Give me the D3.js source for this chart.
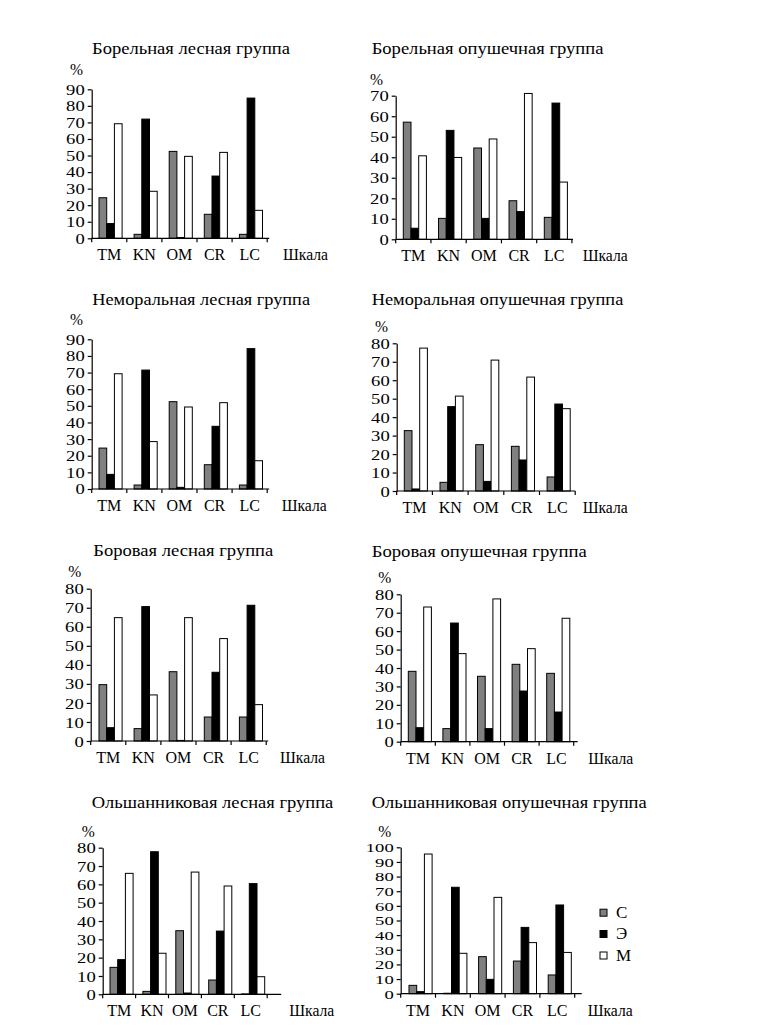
<!DOCTYPE html>
<html><head><meta charset="utf-8">
<script src="https://cdn.jsdelivr.net/npm/d3@7"></script>
<style>
body{margin:0;background:#fff}
svg{display:block}
</style>
</head><body>
<svg id="c" width="769" height="1036"></svg>
<script>
const categories = ["TM", "KN", "OM", "CR", "LC"];
const seriesNames = ["С", "Э", "М"];
const seriesColors = ["#808080", "#000000", "#ffffff"];
const titles = [
  "Борельная лесная группа", "Борельная опушечная группа",
  "Неморальная лесная группа", "Неморальная опушечная группа",
  "Боровая лесная группа", "Боровая опушечная группа",
  "Ольшанниковая лесная группа", "Ольшанниковая опушечная группа"
];
const yMaxima = [90, 70, 90, 80, 80, 80, 80, 100];
const yAxisLabel = "%";
const xAxisLabel = "Шкала";

// values per panel: [С], [Э], [М] for TM, KN, OM, CR, LC
const borealForest   = [[24.5, 2.4, 52.5, 14.5, 2.4], [8.9, 72, 0.5, 37.6, 84.7], [69.2, 28.4, 49.5, 51.9, 16.9]];
const borealEdge     = [[57.1, 10.2, 44.5, 18.8, 10.7], [5.4, 53.1, 10.2, 13.5, 66.4], [40.7, 39.9, 48.9, 71.1, 27.9]];
const nemoralForest  = [[24.6, 2.4, 52.5, 14.6, 2.4], [8.8, 71.5, 1, 37.7, 84.4], [69.3, 28.5, 49.3, 51.9, 17]];
const nemoralEdge    = [[32.7, 4.7, 25.1, 24.2, 7.6], [1.1, 45.7, 5.2, 16.8, 47.1], [77.4, 51.4, 70.9, 61.7, 44.6]];
const pineForest     = [[29.6, 6.5, 36.4, 12.6, 12.6], [7, 70.6, 0.3, 36.1, 71.3], [64.8, 24.2, 64.8, 53.8, 19.1]];
const pineEdge       = [[38.2, 7.1, 35.5, 42, 37.1], [7.6, 64.4, 7.1, 27.5, 16.1], [73.1, 47.8, 77.5, 50.5, 67]];
const alderForest    = [[14.7, 1.6, 34.7, 7.8, 0.2], [18.9, 77.8, 0.7, 34.5, 60.4], [66, 22.4, 66.7, 59.1, 9.6]];
const alderEdge      = [[5.7, 0.3, 25.3, 22.3, 12.8], [1.4, 72.7, 9.8, 45.3, 60.6], [95.4, 27.6, 65.8, 34.9, 28.2]];
const panelData = [borealForest, borealEdge, nemoralForest, nemoralEdge, pineForest, pineEdge, alderForest, alderEdge];

// layout (pixel geometry, separate from data)
const layout = [
  {x0: 91.7, y0: 238.3, yTop: 89.3, gw: 35.1, off: 7.3, tx: 92, ty: 54, tw: 198, px: 70, py: 75, sx: 283, ext: 2, fs: 14},
  {x0: 395.7, y0: 239.3, yTop: 95.7, gw: 35.25, off: 7.6, tx: 371.7, ty: 54, tw: 231.7, px: 370, py: 85, sx: 582.7, ext: 1, fs: 14.5},
  {x0: 91.7, y0: 489, yTop: 339.3, gw: 35.1, off: 7.3, tx: 92.3, ty: 305, tw: 217.7, px: 70, py: 325, sx: 281.7, ext: 2, fs: 14},
  {x0: 396.7, y0: 491, yTop: 343.3, gw: 35.7, off: 7.6, tx: 371.7, ty: 305, tw: 251.6, px: 375, py: 331.7, sx: 582.7, ext: 0, fs: 14.5},
  {x0: 90.7, y0: 741, yTop: 588.7, gw: 35.1, off: 8.3, tx: 93.3, ty: 556, tw: 180, px: 68.3, py: 577.3, sx: 280, ext: 2, fs: 14.5},
  {x0: 400.7, y0: 741.7, yTop: 594.3, gw: 34.6, off: 7.6, tx: 371.7, ty: 557, tw: 215, px: 378.3, py: 583.3, sx: 588.3, ext: 4, fs: 14.5},
  {x0: 102.7, y0: 994.3, yTop: 847.7, gw: 32.9, off: 7.3, tx: 91.7, ty: 808.3, tw: 241.6, px: 81.7, py: 836.7, sx: 289.3, ext: 14, fs: 14.5},
  {x0: 400.7, y0: 993.7, yTop: 847.3, gw: 34.8, off: 8.3, tx: 371.7, ty: 808.3, tw: 275, px: 378.3, py: 836.7, sx: 587.7, ext: 7, fs: 12.5}
];
const barW = 7.7;
const FS = 16;
const FONT = "Liberation Serif, Tinos, Times New Roman, Noto Serif, DejaVu Serif, FreeSerif, Times, serif";

const svg = d3.select("#c");

panelData.forEach((data, i) => {
  const L = layout[i];
  const g = svg.append("g");
  const y = d3.scaleLinear().domain([0, yMaxima[i]]).range([L.y0, L.yTop]);
  const xg = d3.scaleBand().domain(categories).range([L.x0, L.x0 + L.gw * 5]).padding(0);
  const xs = d3.scaleBand().domain(seriesNames).range([L.off, L.off + barW * 3]).padding(0);

  // title
  g.append("text").attr("x", L.tx).attr("y", L.ty).attr("font-size", 16)
    .attr("textLength", L.tw).attr("lengthAdjust", "spacingAndGlyphs").text(titles[i]);
  // %
  g.append("text").attr("x", L.px).attr("y", L.py).attr("font-size", FS)
    .attr("textLength", 13).attr("lengthAdjust", "spacingAndGlyphs").text(yAxisLabel);

  // bars
  seriesNames.forEach((s, si) => {
    g.append("g").selectAll("rect").data(data[si]).join("rect")
      .attr("x", (d, k) => xg(categories[k]) + xs(s))
      .attr("y", d => y(d))
      .attr("width", xs.bandwidth())
      .attr("height", d => L.y0 - y(d))
      .attr("fill", seriesColors[si])
      .attr("stroke", "#000").attr("stroke-width", 1);
  });

  // y axis
  const ya = g.append("g").attr("transform", `translate(${L.x0},0)`)
    .call(d3.axisLeft(y).tickValues(d3.range(0, yMaxima[i] + 1, 10)).tickSize(4).tickPadding(3).tickSizeOuter(0));
  ya.attr("font-family", null).attr("font-size", null);
  ya.select(".domain").attr("stroke", "#000").attr("stroke-width", 1.2);
  ya.selectAll(".tick line").attr("stroke", "#000").attr("stroke-width", 1.2);
  ya.selectAll(".tick text").attr("font-size", L.fs).attr("fill", "#000")
    .attr("textLength", d => String(d).length * 9.3).attr("lengthAdjust", "spacingAndGlyphs")
    .attr("dy", "0.35em");

  // x axis line with boundary ticks
  const bounds = categories.map(c => xg(c)).concat([L.x0 + L.gw * 5]);
  g.append("line").attr("x1", L.x0).attr("x2", L.x0 + L.gw * 5 + L.ext)
    .attr("y1", L.y0).attr("y2", L.y0).attr("stroke", "#000").attr("stroke-width", 1.2);
  g.append("g").selectAll("line").data(bounds).join("line")
    .attr("x1", d => d).attr("x2", d => d).attr("y1", L.y0).attr("y2", L.y0 + 4)
    .attr("stroke", "#000").attr("stroke-width", 1.2);
  g.append("g").selectAll("text").data(categories).join("text")
    .attr("x", d => xg(d) + xg.bandwidth() / 2).attr("y", L.y0 + 22)
    .attr("text-anchor", "middle").attr("font-size", 16).text(d => d);
  g.append("text").attr("x", L.sx).attr("y", L.y0 + 22).attr("font-size", FS)
    .attr("textLength", 45).attr("lengthAdjust", "spacingAndGlyphs").text(xAxisLabel);
});

// legend
const legendY = [912.7, 934, 955.5];
const lg = svg.append("g");
seriesNames.forEach((s, si) => {
  lg.append("rect").attr("x", 600).attr("y", legendY[si] - 3.5).attr("width", 7).attr("height", 7)
    .attr("fill", seriesColors[si]).attr("stroke", "#000").attr("stroke-width", 1);
  lg.append("text").attr("x", 616).attr("y", legendY[si] + 5).attr("font-size", 17).text(s);
});

svg.selectAll("text").attr("font-family", FONT).attr("fill", "#000");
</script>
</body></html>
